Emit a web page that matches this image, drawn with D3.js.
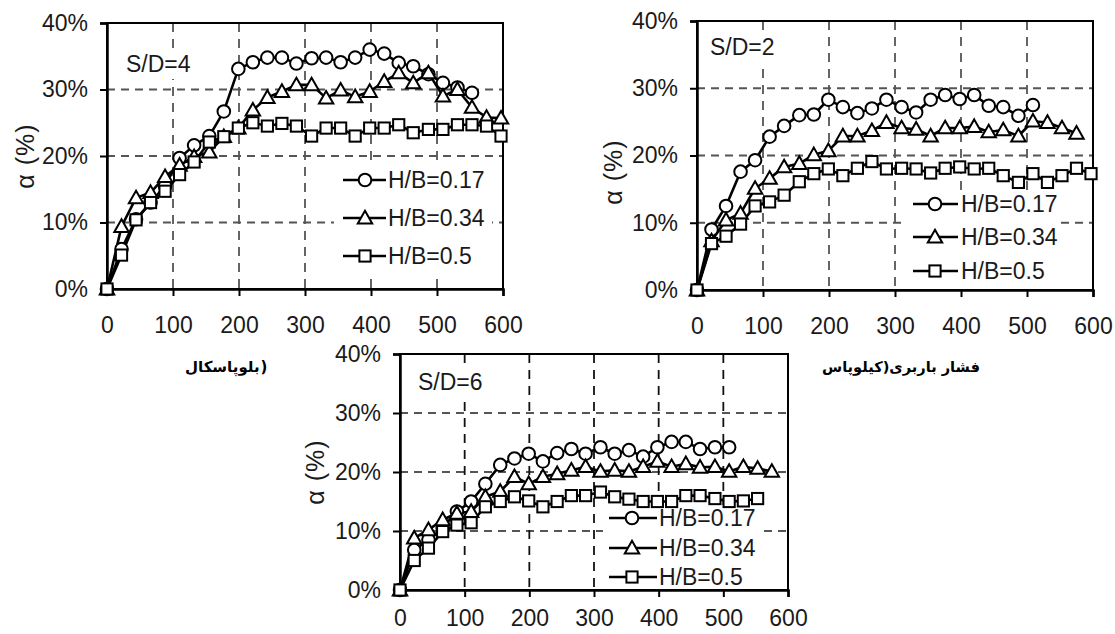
<!DOCTYPE html>
<html><head><meta charset="utf-8">
<script src="https://cdn.jsdelivr.net/npm/d3@7"></script>
<style>
html,body{margin:0;padding:0;background:#fff;}
svg{display:block;font-family:"Liberation Sans",Arial,sans-serif;}
</style></head>
<body><svg id="c" width="1115" height="634"></svg>
<script>
// ---- data ----
const loads = [0,22,44,66,88,110,132,155,177,199,221,243,265,287,310,332,354,376,398,420,442,464,487,509,531,553,575,597];
const xTicks = [0,100,200,300,400,500,600];
const yTicks = [0,0.1,0.2,0.3,0.4];
const yTickLabels = ["0%","10%","20%","30%","40%"];
const seriesNames = ["H/B=0.17","H/B=0.34","H/B=0.5"];
const panelLabels = ["S/D=4","S/D=2","S/D=6"];
const yTitle = "α (%)";
const xTitleLeftWord = "بلوپاسکال";
const xTitleLeftParen = ")";
const xTitleRight = "فشار باربری(کیلوپاس";

// S/D=4 (values in %)
const sd4_h017 = [0,6,10.5,13,15.5,19.7,21.6,23,26.7,33.1,34.1,34.8,34.8,33.9,34.7,34.8,34.1,34.8,36,35.4,34,33.5,32.3,31,30.3,29.5];
const sd4_h034 = [0,9.4,13.7,14.5,16.9,18.6,19.9,20.6,22.9,24.2,26.9,28.8,29.7,30.7,30.7,28.7,29.9,28.9,29.7,31.2,32.5,31,32.5,29,30,27.3,25.8,25.7];
const sd4_h05  = [0,5.1,10.4,13,14.7,17.2,19.1,22.1,22.9,24.2,25,24.5,24.9,24.5,23,24.2,24.2,23,24.2,24.2,24.7,23.5,24,24,24.7,24.7,24.5,23];
// S/D=2
const sd2_h017 = [0,9,12.5,17.6,19.3,22.8,24.4,26,26.1,28.3,27.2,26.3,27,28.3,27.2,26.4,28.3,29,28.4,29,27.4,27.2,25.9,27.5];
const sd2_h034 = [0,7.3,10.4,11.4,15.1,16.6,18.3,18.8,20.1,20.7,22.9,22.9,23.7,24.9,24.1,23.9,22.9,24.1,24.1,24.3,23.5,23.8,22.9,25.1,24.9,24.1,23.3];
const sd2_h05  = [0,6.9,8,9.8,12.5,13.1,14.1,16.1,17.3,18,17,18.1,19.1,18,18.1,18,17.4,18.1,18.3,18,18.1,17,16,17.3,16,17,18.1,17.3];
// S/D=6
const sd6_h017 = [0,6.8,8.5,10.5,13.3,15,18,21.2,22.3,23.1,21.8,23.2,23.9,23.1,24.2,23.1,23.7,22.6,24.2,25.1,25.1,23.9,24.2,24.2];
const sd6_h034 = [0,8.8,10.2,11.9,13,13.3,15.8,16.7,19.2,18,19.2,19.7,20.3,20.9,20.1,20.3,20.1,20.9,21.8,20.9,21.4,20.8,20.9,20.1,20.9,20.6,20.1];
const sd6_h05  = [0,5,7.1,9.9,11,11.4,14.1,15,15.8,15.1,14.1,15,16,16,16.6,15.8,15.4,15,15,15,16,16,15.5,15,15.1,15.5];

// ---- layout ----
const panels = [
  {label:panelLabels[0], series:[sd4_h017,sd4_h034,sd4_h05], l:107,r:503,t:23,b:289,
   lab:[126,72], leg:{x0:343,x1:386,mx:365,tx:388,ys:[180,218,256],box:[334,166,158,106]}, yt:[25,156], vgrid:"#555", xpad:21},
  {label:panelLabels[1], series:[sd2_h017,sd2_h034,sd2_h05], l:697,r:1093,t:21,b:290,
   lab:[710,55], leg:{x0:913,x1:958,mx:935,tx:961,ys:[204,237,271],box:[905,190,155,96]}, yt:[613,172], vgrid:"#555", xpad:21},
  {label:panelLabels[2], series:[sd6_h017,sd6_h034,sd6_h05], l:400,r:788,t:354,b:590,
   lab:[418,390], leg:{x0:609,x1:657,mx:632,tx:659,ys:[518,548,577],box:[603,505,160,84]}, yt:[315,472], vgrid:"#111", xpad:13}
];
const svg = d3.select("#c");
const FS = 23;

function marker(g, type, x, y){
  if(type===0){
    g.append("circle").attr("cx",x).attr("cy",y).attr("r",6.3)
     .attr("fill","#fff").attr("stroke","#000").attr("stroke-width",2);
  } else if(type===1){
    const s=7.2;
    g.append("path").attr("d",`M${x},${y-s}L${x+s},${y+s*0.75}L${x-s},${y+s*0.75}Z`)
     .attr("fill","#fff").attr("stroke","#000").attr("stroke-width",2);
  } else {
    const s=5.6;
    g.append("rect").attr("x",x-s).attr("y",y-s).attr("width",2*s).attr("height",2*s)
     .attr("fill","#fff").attr("stroke","#000").attr("stroke-width",2);
  }
}

panels.forEach(p=>{
  const x = d3.scaleLinear().domain([0,600]).range([p.l,p.r]);
  const y = d3.scaleLinear().domain([0,0.4]).range([p.b,p.t]);
  const g = svg.append("g");
  // horizontal grid
  g.append("g").selectAll("line").data(yTicks.filter(v=>v>0&&v<0.4)).join("line")
   .attr("x1",p.l).attr("x2",p.r).attr("y1",d=>y(d)).attr("y2",d=>y(d))
   .attr("stroke","#555").attr("stroke-width",1.8).attr("stroke-dasharray","8,6");
  // vertical grid
  g.append("g").selectAll("line").data(xTicks.filter(v=>v>0&&v<600)).join("line")
   .attr("y1",p.t).attr("y2",p.b).attr("x1",d=>x(d)).attr("x2",d=>x(d))
   .attr("stroke",p.vgrid).attr("stroke-width",1.8).attr("stroke-dasharray","9,7");
  // frame
  g.append("rect").attr("x",p.l).attr("y",p.t).attr("width",p.r-p.l).attr("height",p.b-p.t)
   .attr("fill","none").attr("stroke","#000").attr("stroke-width",2);
  // axes
  const ya = d3.axisLeft(y).tickValues(yTicks).tickSize(7).tickPadding(12)
     .tickFormat((d,i)=>yTickLabels[i]);
  const xa = d3.axisBottom(x).tickValues(xTicks).tickSize(7).tickPadding(p.xpad)
     .tickFormat(d3.format("d"));
  const gy = g.append("g").attr("transform",`translate(${p.l},0)`).call(ya);
  const gx = g.append("g").attr("transform",`translate(0,${p.b})`).call(xa);
  [gy,gx].forEach(a=>{
    a.select(".domain").attr("stroke","#000").attr("stroke-width",2.5);
    a.selectAll(".tick line").attr("stroke","#000").attr("stroke-width",2);
    a.selectAll("text").attr("font-size",FS).attr("fill","#1a1a1a")
      .attr("font-family","'Liberation Sans',Arial,sans-serif");
  });
  // panel label (white background hides grid)
  const lt = g.append("text").attr("x",p.lab[0]).attr("y",p.lab[1]).attr("font-size",FS)
   .attr("fill","#1a1a1a").text(p.label);
  const bb = lt.node().getBBox();
  g.insert("rect", () => lt.node()).attr("x",bb.x-3).attr("y",bb.y-2)
   .attr("width",bb.width+6).attr("height",bb.height+4).attr("fill","#fff");
  // legend box
  g.append("rect").attr("x",p.leg.box[0]).attr("y",p.leg.box[1])
   .attr("width",p.leg.box[2]).attr("height",p.leg.box[3]).attr("fill","#fff");
  // series
  const line = d3.line().x((d,i)=>x(loads[i])).y(d=>y(d/100));
  p.series.forEach((s,k)=>{
    g.append("path").attr("d",line(s)).attr("fill","none")
     .attr("stroke","#000").attr("stroke-width",2.6).attr("stroke-linejoin","round");
  });
  p.series.forEach((s,k)=>{
    const mg = g.append("g");
    s.forEach((v,i)=>marker(mg,k,x(loads[i]),y(v/100)));
  });
  // legend
  seriesNames.forEach((n,k)=>{
    const ly = p.leg.ys[k];
    g.append("line").attr("x1",p.leg.x0).attr("x2",p.leg.x1).attr("y1",ly).attr("y2",ly)
     .attr("stroke","#000").attr("stroke-width",2.6);
    marker(g,k,p.leg.mx,ly);
    g.append("text").attr("x",p.leg.tx).attr("y",ly).attr("dy","0.36em")
     .attr("font-size",FS).attr("fill","#1a1a1a").text(n);
  });
  // y title
  g.append("text").attr("transform",`translate(${p.yt[0]},${p.yt[1]}) rotate(-90)`)
   .attr("text-anchor","middle").attr("dy","0.36em").attr("font-size",25)
   .attr("letter-spacing","1px").attr("fill","#1a1a1a").text(yTitle);
});

// x-axis titles (only partially visible in the source figure)
const tw = svg.append("text").attr("x",185).attr("y",372)
  .attr("font-family","'DejaVu Sans',sans-serif").attr("font-weight","bold").attr("font-size",15)
  .text(xTitleLeftWord);
const wlen = tw.node().getComputedTextLength();
svg.append("text").attr("x",185 + wlen + 1).attr("y",372)
  .attr("font-family","'DejaVu Sans',sans-serif").attr("font-weight","bold").attr("font-size",15)
  .text(xTitleLeftParen);
svg.append("text").attr("x",822).attr("y",372)
  .attr("font-family","'DejaVu Sans',sans-serif").attr("font-weight","bold").attr("font-size",14.6)
  .text(xTitleRight);
</script></body></html>
